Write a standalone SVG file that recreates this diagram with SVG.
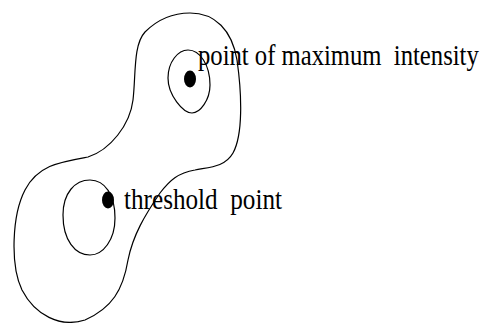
<svg xmlns="http://www.w3.org/2000/svg" width="485" height="323" viewBox="0 0 485 323">
<style>
.c{fill:none;stroke:#000;stroke-width:1.2}
.d{fill:#000}
.t{font-family:"Liberation Serif","Times New Roman",serif;font-size:30px;fill:#000;white-space:pre}
</style>
<rect width="485" height="323" fill="#fff"/>
<g id="outer-contour">
<path class="c" d="M190,13 C215,13 232,30 237,60 C242,95 243,135 233,153 C225,167 210,167 195,170 C178,173 170,180 160,193 C145,215 133,235 128,260 C123,290 112,308 85,320 C60,328 35,315 22,290 C10,265 12,215 25,190 C38,165 60,162 88,157 C110,150 130,125 133,100 C136,75 133,45 145,32 C160,17 175,13 190,13 Z"/>
</g>
<g id="max-contour">
<path class="c" d="M188,50 C200,50 210,65 210,85 C210,100 200,113 192,113 C183,113 168,95 168,78 C168,62 178,50 188,50 Z"/>
<ellipse class="d" cx="190" cy="79" rx="6" ry="8.5"/>
<text class="t" transform="translate(198,65) scale(0.822,1)" x="0" y="0" xml:space="preserve">point of maximum  intensity</text>
</g>
<g id="threshold-contour">
<path class="c" d="M90,180 C105,180 115,195 115,218 C115,240 103,255 90,255 C75,255 63,240 63,215 C63,193 75,180 90,180 Z"/>
<ellipse class="d" cx="108" cy="200" rx="6" ry="8.5"/>
<text class="t" transform="translate(124,209) scale(0.839,1)" x="0" y="0" xml:space="preserve">threshold  point</text>
</g>
</svg>
